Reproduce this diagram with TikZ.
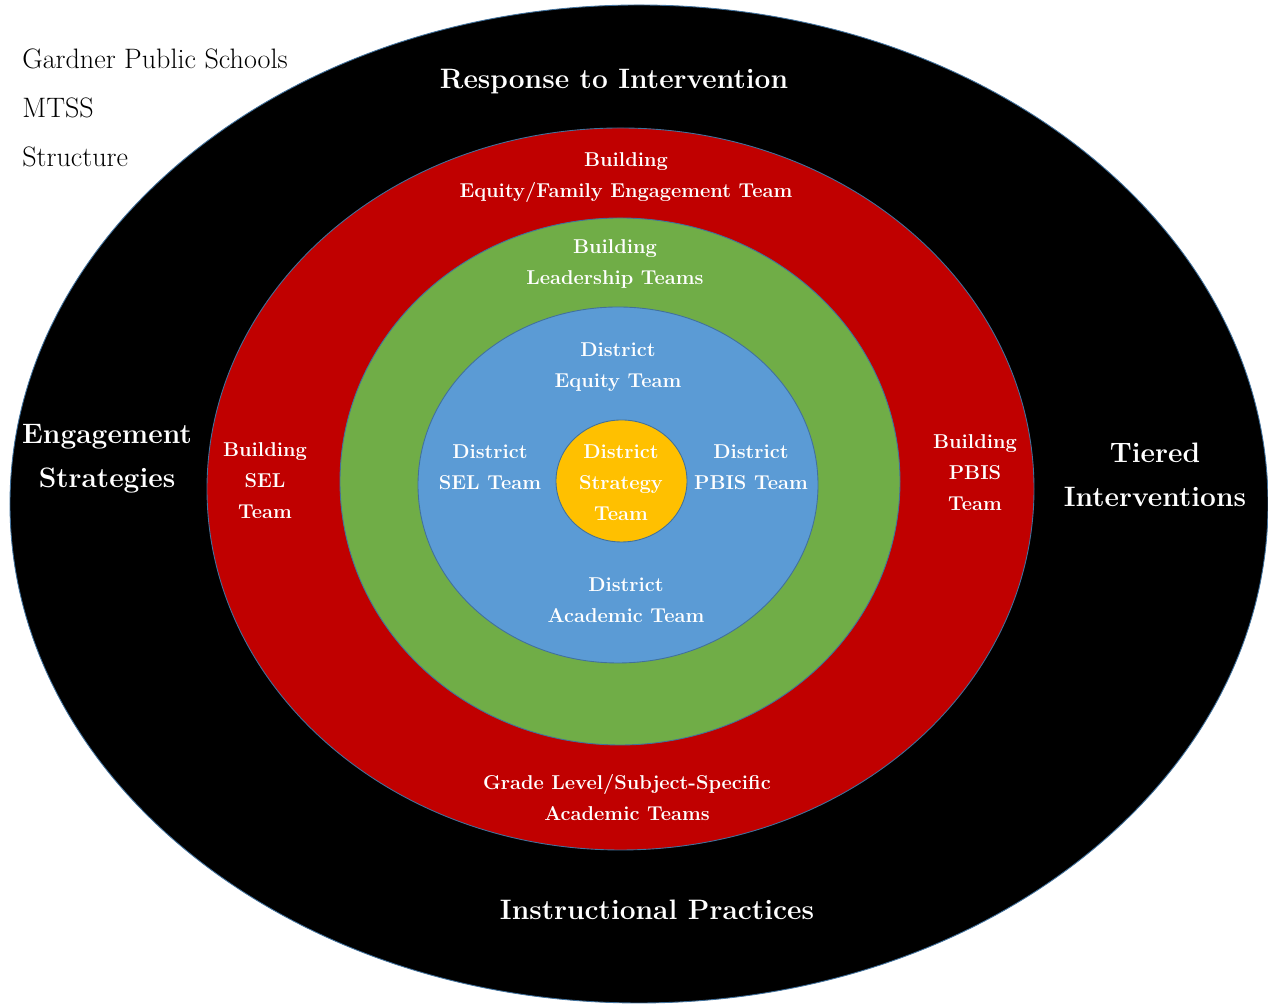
\documentclass[tikz,border=0pt]{standalone}
\usepackage{tikz}
\usepackage{tkz-euclide}
\usetikzlibrary{calc,backgrounds}
\definecolor{ringblack}{HTML}{000000}
\definecolor{ringred}{HTML}{C00000}
\definecolor{ringgreen}{HTML}{70AD47}
\definecolor{ringblue}{HTML}{5B9BD5}
\definecolor{ringgold}{HTML}{FFC000}
\definecolor{ringline}{HTML}{41719C}

\begin{document}
\begin{tikzpicture}[scale=1,
    ring/.style={draw=ringline, line width=0.5pt},
    team/.style={text=white, align=center, inner sep=0pt,
      font=\fontsize{11.4}{17.6}\selectfont\bfseries},
    outer/.style={text=white, align=center, inner sep=0pt,
      font=\fontsize{16}{24.8}\selectfont\bfseries}]
    \useasboundingbox (0,0) rectangle (25.36,20.1);
    \tkzDefPoint(12.78,10.02){Ob}
    \tkzDefPoint(12.41,10.32){Or}
    \tkzDefPoint(12.40,10.47){Og}
    \tkzDefPoint(12.36,10.40){Ou}
    \tkzDefPoint(12.43,10.48){Oy}
    % rings, outside in
    \fill[ring, fill=ringblack] (Ob) ellipse (12.58 and 9.98);
    \fill[ring, fill=ringred] (Or) ellipse (8.27 and 7.22);
    \fill[ring, fill=ringgreen] (Og) ellipse (5.60 and 5.27);
    \fill[ring, fill=ringblue] (Ou) ellipse (4.00 and 3.56);
    \fill[ring, fill=ringgold] (Oy) ellipse (1.31 and 1.22);
    %\tkzDrawPoints(Ob,Or,Og,Ou,Oy)
    % heading
    \node[anchor=west, align=left, inner sep=0pt,
      font=\fontsize{16}{27.9}\selectfont] (title) at (0.44,17.94)
      {Gardner Public Schools\\MTSS\\Structure};
    % black ring
    \node[outer] (rti) at (12.28,18.46) {Response to Intervention};
    \node[outer] (engage) at (2.14,10.93) {Engagement\\Strategies};
    \node[outer] (tiered) at (23.10,10.60) {Tiered\\Interventions};
    \node[outer] (instr) at (13.14,1.90) {Instructional Practices};
    % red ring
    \node[team] (bequity) at (12.52,16.55) {Building\\Equity/Family Engagement Team};
    \node[team] (bsel) at (5.30,10.48) {Building\\SEL\\Team};
    \node[team] (bpbis) at (19.50,10.65) {Building\\PBIS\\Team};
    \node[team] (grade) at (12.54,4.15) {Grade Level/Subject-Specific\\Academic Teams};
    % green ring
    \node[team] (blead) at (12.30,14.82) {Building\\Leadership Teams};
    % blue ring
    \node[team] (dequity) at (12.36,12.75) {District\\Equity Team};
    \node[team] (dsel) at (9.80,10.75) {District\\SEL Team};
    \node[team] (dpbis) at (15.02,10.75) {District\\PBIS Team};
    \node[team] (dacad) at (12.52,8.09) {District\\Academic Team};
    % centre
    \node[team] (dstrat) at (12.42,10.44) {District\\Strategy\\Team};
\end{tikzpicture}
\end{document}
